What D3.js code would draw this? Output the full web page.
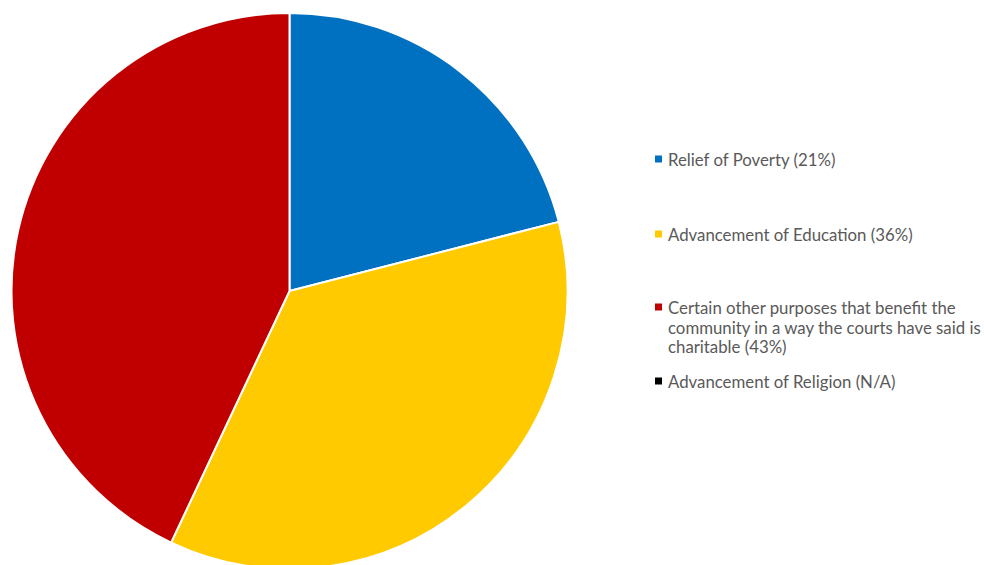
<!DOCTYPE html>
<html>
<head>
<meta charset="utf-8">
<script src="https://cdn.jsdelivr.net/npm/d3@7"></script>
<style>
  html, body { margin: 0; padding: 0; background: #fff; }
  svg { display: block; }
</style>
</head>
<body>
<svg id="chart" width="984" height="565"></svg>
<script>
// Charitable purposes and their shares (percent)
const categories = [
  "Relief of Poverty",
  "Advancement of Education",
  "Certain other purposes that benefit the community in a way the courts have said is charitable",
  "Advancement of Religion"
];
const values = [21, 36, 43, 0];
const valueLabels = ["21%", "36%", "43%", "N/A"];
const colors = ["#0070C0", "#FFCA00", "#C00000", "#000000"];

// Legend lines (wrapped text per entry)
const legendLines = [
  ["Relief of Poverty (21%)"],
  ["Advancement of Education (36%)"],
  ["Certain other purposes that benefit the", "community in a way the courts have said is", "charitable (43%)"],
  ["Advancement of Religion (N/A)"]
];

const svg = d3.select("#chart");
const cx = 289.5, cy = 291, radius = 278;

const pie = d3.pie().sort(null).value(d => d.value);
const arc = d3.arc().innerRadius(0).outerRadius(radius);

const data = categories.map((c, i) => ({ name: c, value: values[i], color: colors[i] }));

svg.append("g")
  .attr("transform", `translate(${cx},${cy})`)
  .selectAll("path")
  .data(pie(data).filter(d => d.data.value > 0))
  .join("path")
  .attr("d", arc)
  .attr("fill", d => d.data.color)
  .attr("stroke", "#fff")
  .attr("stroke-width", 2)
  .attr("stroke-linejoin", "round");

// Legend
const legendX = 655, textX = 668;
const rowY = [159, 234, 307, 381];
const lineH = 19.5;

const legend = svg.append("g").attr("font-family", "Lato, 'Open Sans', sans-serif")
  .attr("font-size", 16.8).attr("fill", "#595959");

legendLines.forEach((lines, i) => {
  legend.append("rect")
    .attr("x", legendX).attr("y", rowY[i] - 3.5)
    .attr("width", 7).attr("height", 7)
    .attr("fill", colors[i]);
  const t = legend.append("text")
    .attr("x", textX).attr("y", rowY[i])
    .attr("dominant-baseline", "central");
  lines.forEach((ln, j) => {
    t.append("tspan").attr("x", textX).attr("dy", j === 0 ? 0 : lineH).text(ln);
  });
});
</script>
</body>
</html>
